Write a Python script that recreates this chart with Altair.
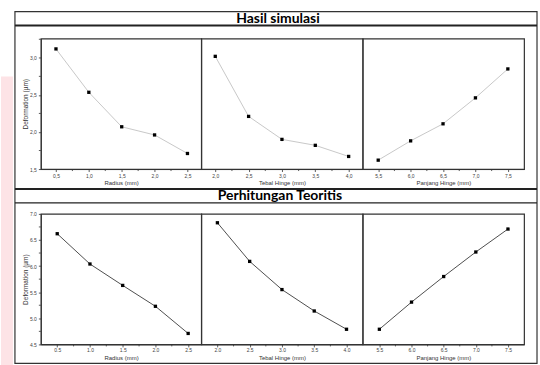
import altair as alt
import pandas as pd

# ---- data ----
radius = [0.5, 1.0, 1.5, 2.0, 2.5]
tebal = [2.0, 2.5, 3.0, 3.5, 4.0]
panjang = [5.5, 6.0, 6.5, 7.0, 7.5]

sim_radius = [3.12, 2.535, 2.07, 1.96, 1.71]
sim_tebal = [3.02, 2.21, 1.90, 1.82, 1.67]
sim_panjang = [1.62, 1.88, 2.11, 2.46, 2.85]

teo_radius = [6.62, 6.04, 5.63, 5.23, 4.71]
teo_tebal = [6.83, 6.09, 5.55, 5.14, 4.79]
teo_panjang = [4.79, 5.31, 5.80, 6.27, 6.71]

x_titles = ["Radius (mm)", "Tebal Hinge (mm)", "Panjang Hinge (mm)"]
y_title = "Deformation (\u00b5m)"
section_titles = ["Hasil simulasi", "Perhitungan Teoritis"]

# tick values (major labelled, minor unlabelled)
radius_minor = [0.75, 1.25, 1.75, 2.25]
tebal_minor = [2.25, 2.75, 3.25, 3.75]
panjang_minor = [5.75, 6.25, 6.75, 7.25]
y_sim_major = [1.5, 2.0, 2.5, 3.0]
y_sim_minor = [1.75, 2.25, 2.75, 3.25]
y_teo_major = [4.5, 5.0, 5.5, 6.0, 6.5, 7.0]
y_teo_minor = [4.75, 5.25, 5.75, 6.25, 6.75]

FONT = "Liberation Sans"
one = pd.DataFrame({"a": [0]})
H = 131


def axis(title, values, top_row, label_pad, title_pad, title_size):
    kw = dict(
        title=title, values=values, tickCount=30,
        labelFont=FONT, labelFontSize=5, labelColor="#444",
        tickColor="#333", tickSize=2.5, tickWidth=0.8,
        domainColor="#333", domainWidth=1,
        titleFont=FONT, titleFontSize=title_size, titleFontWeight="normal", titleColor="#333",
        grid=False, labelFlush=False, labelOverlap=False,
        labelPadding=label_pad, titlePadding=title_pad, zindex=1,
    )
    if top_row:
        kw["labelExpr"] = "replace(format(datum.value, '.1f'), '.', ',')"
    else:
        kw["format"] = ".1f"
    return alt.Axis(**kw)


def panel(xv, yv, xdom, ydom, xmajor, xminor, ymajor, yminor, xtitle, show_y, top_row,
          width, decor=None):
    df = pd.DataFrame({"x": xv, "y": yv})
    xa = axis(xtitle, xmajor, top_row, 2 if top_row else 1, 1.5 if top_row else 2, 6)
    xs = alt.Scale(domain=xdom, nice=False, zero=False)
    ys = alt.Scale(domain=ydom, nice=False, zero=False)
    x_enc = alt.X("x:Q", scale=xs, axis=xa)
    if show_y:
        y_enc = alt.Y("y:Q", scale=ys, axis=axis(y_title, ymajor, top_row, 2, 1, 6.5))
        y_plain = alt.Y("y:Q")
    else:
        y_enc = alt.Y("y:Q", scale=ys, axis=None)
        y_plain = alt.Y("y:Q", axis=None)
    line_color = "#c2c2c2" if top_row else "#3a3a3a"
    line = alt.Chart(df).mark_line(color=line_color, strokeWidth=0.9).encode(x=x_enc, y=y_enc)
    pts = alt.Chart(df).mark_square(color="black", size=11, opacity=1).encode(
        x=alt.X("x:Q"), y=y_plain)
    xmin_df = pd.DataFrame({"x": xminor})
    xmin_rule = alt.Chart(xmin_df).mark_rule(color="#333", strokeWidth=0.8).encode(
        x=alt.X("x:Q"), y=alt.value(H), y2=alt.value(H + 2))
    layers = (decor or []) + [line, pts, xmin_rule]
    if show_y:
        ymin_df = pd.DataFrame({"y": yminor})
        ymin_rule = alt.Chart(ymin_df).mark_rule(color="#333", strokeWidth=0.8).encode(
            y=alt.Y("y:Q"), x=alt.value(0), x2=alt.value(-2))
        layers.append(ymin_rule)
    return alt.layer(*layers).properties(width=width, height=H)


# decorations for the first panel (view origin at page x=40, y=37)
bounds_rect = alt.Chart(one).mark_rect(fill="white", opacity=0).encode(
    x=alt.value(-40), x2=alt.value(500), y=alt.value(-37), y2=alt.value(328))
pink = alt.Chart(one).mark_rect(fill="#fde3e6").encode(
    x=alt.value(-40), x2=alt.value(-28), y=alt.value(38), y2=alt.value(328))
frame = alt.Chart(one).mark_rect(fill=None, stroke="#333", strokeWidth=1.2).encode(
    x=alt.value(-26), x2=alt.value(498), y=alt.value(-27), y2=alt.value(326))
bar1 = alt.Chart(one).mark_rule(color="#222", strokeWidth=2).encode(
    x=alt.value(-26), x2=alt.value(498), y=alt.value(-13))
title1 = alt.Chart(one).mark_text(font="Lato", fontSize=14, fontWeight="bold",
                                  color="black", baseline="middle").encode(
    x=alt.value(238), y=alt.value(-19.5), text=alt.value(section_titles[0]))

# decorations for the fourth panel (view origin at page x=40, y=213)
band2 = alt.Chart(one).mark_rect(fill="white").encode(
    x=alt.value(-25), x2=alt.value(497), y=alt.value(-25), y2=alt.value(-11))
bar2a = alt.Chart(one).mark_rule(color="#222", strokeWidth=2).encode(
    x=alt.value(-26), x2=alt.value(498), y=alt.value(-25))
bar2b = alt.Chart(one).mark_rule(color="#222", strokeWidth=1.2).encode(
    x=alt.value(-26), x2=alt.value(498), y=alt.value(-11))
title2 = alt.Chart(one).mark_text(font="Lato", fontSize=14, fontWeight="bold",
                                  color="black", baseline="middle").encode(
    x=alt.value(240), y=alt.value(-17.5), text=alt.value(section_titles[1]))

ydom_sim = [1.5, 3.26]
ydom_teo = [4.5, 7.0]
W = [161, 162, 162]

p1 = panel(radius, sim_radius, [0.27, 2.71], ydom_sim, radius, radius_minor,
           y_sim_major, y_sim_minor, x_titles[0], True, True, W[0],
           [bounds_rect, pink, frame, bar1, title1])
p2 = panel(tebal, sim_tebal, [1.79, 4.21], ydom_sim, tebal, tebal_minor,
           y_sim_major, y_sim_minor, x_titles[1], False, True, W[1])
p3 = panel(panjang, sim_panjang, [5.26, 7.75], ydom_sim, panjang, panjang_minor,
           y_sim_major, y_sim_minor, x_titles[2], False, True, W[2])
p4 = panel(radius, teo_radius, [0.25, 2.70], ydom_teo, radius, radius_minor,
           y_teo_major, y_teo_minor, x_titles[0], True, False, W[0],
           [band2, bar2a, bar2b, title2])
p5 = panel(tebal, teo_tebal, [1.75, 4.25], ydom_teo, tebal, tebal_minor,
           y_teo_major, y_teo_minor, x_titles[1], False, False, W[1])
p6 = panel(panjang, teo_panjang, [5.24, 7.75], ydom_teo, panjang, panjang_minor,
           y_teo_major, y_teo_minor, x_titles[2], False, False, W[2])

chart = alt.concat(p1, p2, p3, p4, p5, p6, columns=3,
                   spacing={"row": 45, "column": 0},
                   bounds="flush", align="each").properties(
    padding=0, background="white"
).configure_view(stroke="#333", strokeWidth=1.2).configure_axis(labelOverlap=False)

chart.save("out.html", embed_options={"renderer": "svg", "actions": False})
